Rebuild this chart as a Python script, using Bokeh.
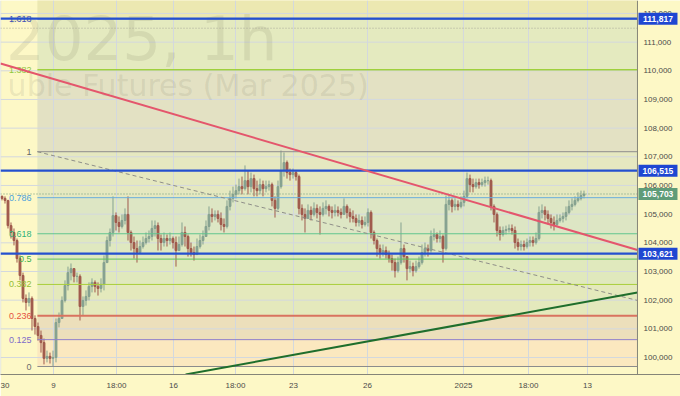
from bokeh.plotting import figure
from bokeh.models import Range1d, FixedTicker, ColumnDataSource
from bokeh.embed import file_html
from bokeh.resources import INLINE
from bokeh.core.properties import value

# ---------------- data (prices in thousands of RUB) ----------------
first_open_k = 105.62
close_k = [105.55,105.48,104.60,104.36,104.08,103.45,102.86,102.06,101.92,102.06,
           101.36,101.08,100.77,100.52,99.97,100.04,99.97,100.00,101.22,101.36,
           101.99,102.51,102.96,103.10,102.83,102.83,101.78,101.99,102.13,102.48,
           102.62,102.48,102.41,102.55,103.31,104.08,104.36,104.95,104.71,104.57,
           104.78,104.99,104.36,104.01,103.80,103.66,103.87,104.01,104.15,104.22,
           104.50,104.60,104.15,104.01,104.15,104.08,104.15,104.01,103.73,103.94,
           104.36,104.22,103.80,103.66,103.59,103.87,104.08,104.22,104.57,104.99,
           104.92,104.99,104.85,104.64,104.57,105.27,105.55,105.69,105.82,105.96,
           105.89,106.17,105.96,106.24,105.89,105.82,106.03,105.89,105.96,106.03,
           105.48,105.20,105.96,106.52,106.80,106.45,106.38,106.45,106.31,105.20,
           104.99,104.85,105.13,104.99,105.20,105.06,104.99,105.20,105.27,105.13,
           105.06,105.13,105.06,104.99,105.27,105.06,104.92,104.85,104.71,104.78,
           104.64,104.71,105.06,104.36,104.08,103.80,103.66,103.73,103.59,103.45,
           103.31,103.03,103.31,103.80,103.52,103.10,103.17,103.03,103.17,103.31,
           103.66,103.80,103.73,104.22,104.29,104.15,104.22,103.80,105.34,105.48,
           105.27,105.34,105.27,105.41,105.62,106.24,106.03,105.96,106.10,106.03,
           106.10,106.17,106.17,105.27,104.99,104.43,104.29,104.43,104.46,104.50,
           104.43,104.01,103.87,103.94,103.87,104.01,104.08,104.01,104.15,105.06,
           105.13,104.99,104.85,104.71,104.64,104.78,104.85,104.92,105.06,105.27,
           105.34,105.48,105.55,105.65,105.70]
high_k = [105.65,105.62,105.48,104.71,104.50,104.15,103.56,102.96,102.20,102.27,
          102.13,101.47,101.22,100.94,100.66,100.24,100.17,100.24,101.36,101.57,
          102.13,102.69,103.17,103.28,103.10,102.96,102.90,102.13,102.34,102.62,
          102.76,102.69,102.62,102.76,103.56,104.22,104.50,105.62,105.06,104.92,
          104.99,105.20,105.62,104.43,104.22,104.08,104.08,104.22,104.36,104.43,
          104.78,104.78,104.71,104.29,104.36,104.29,104.36,104.22,104.22,104.22,
          104.71,104.57,104.29,104.01,103.87,104.15,104.29,104.43,104.78,105.27,
          105.20,105.13,105.13,105.06,104.85,105.48,105.82,105.96,106.03,106.24,
          106.31,106.70,106.52,106.45,106.38,106.17,106.24,106.17,106.17,106.17,
          106.10,105.62,106.17,107.22,107.15,106.87,106.59,106.59,106.52,106.38,
          105.34,105.20,105.34,105.27,105.41,105.34,105.27,105.41,105.48,105.34,
          105.27,105.34,105.27,105.20,105.55,105.34,105.20,105.13,104.99,104.99,
          104.92,104.92,105.20,105.13,104.43,104.15,103.94,103.94,103.87,103.73,
          103.59,103.45,103.52,104.71,103.94,103.52,103.38,103.31,103.38,103.52,
          103.94,104.01,103.94,104.43,104.50,104.36,104.43,104.29,105.65,105.69,
          105.55,105.55,105.48,105.62,105.82,106.45,106.38,106.24,106.24,106.24,
          106.24,106.31,106.31,106.24,105.34,105.06,104.57,104.57,104.60,104.64,
          104.64,104.57,104.15,104.08,104.08,104.15,104.22,104.22,104.36,105.27,
          105.34,105.27,105.13,104.99,104.92,104.99,104.99,105.06,105.27,105.48,
          105.55,105.62,105.76,105.82,105.82]
low_k = [105.48,105.37,104.50,104.15,103.91,103.31,102.69,101.92,101.64,101.78,
         100.94,100.80,100.59,100.17,99.76,99.83,99.79,99.70,99.83,101.05,
         101.36,101.92,102.34,102.69,102.62,102.62,101.29,101.47,101.81,101.99,
         102.27,102.27,102.16,102.27,102.34,103.31,103.87,104.22,104.43,104.36,
         104.50,104.64,104.08,103.73,103.45,103.31,103.66,103.80,103.94,104.01,
         104.08,104.22,103.73,103.73,103.87,103.87,103.94,103.80,103.17,103.73,
         103.87,103.87,103.52,103.52,103.38,103.59,103.80,103.94,104.22,104.43,
         104.71,104.78,104.71,104.43,104.36,104.50,105.13,105.41,105.55,105.69,
         105.69,105.82,105.69,105.76,105.62,105.62,105.69,105.62,105.76,105.82,
         105.27,104.88,105.13,105.89,106.31,106.24,106.17,106.24,106.17,104.99,
         104.78,104.36,104.85,104.78,104.92,104.85,104.29,104.92,104.99,104.92,
         104.85,104.92,104.92,104.85,104.99,104.85,104.71,104.71,104.57,104.57,
         104.50,104.57,104.57,104.15,103.94,103.52,103.45,103.52,103.45,103.31,
         103.03,102.79,102.96,103.24,103.31,102.69,102.96,102.83,102.96,103.10,
         103.24,103.52,103.52,103.66,104.08,104.01,104.01,103.31,103.73,105.13,
         105.06,105.13,105.13,105.20,105.27,105.55,105.76,105.76,105.89,105.89,
         105.96,105.96,106.03,105.13,104.71,104.22,104.08,104.22,104.29,104.36,
         104.29,103.80,103.73,103.73,103.73,103.80,103.87,103.87,103.94,104.08,
         104.85,104.78,104.64,104.50,104.43,104.57,104.71,104.71,104.78,104.99,
         105.13,105.27,105.41,105.48,105.55]

x_tick_pos = [-0.45, 17.17, 38.17, 57.17, 77.83, 97.17, 121.83, 153.83, 175.5, 195.17]
x_tick_labels = ["30", "9", "18:00", "16", "18:00", "23", "26", "2025", "18:00", "13"]
y_ticks = [100000, 101000, 102000, 103000, 104000, 105000, 106000,
           107000, 108000, 109000, 110000, 111000, 112000]
y_tick_labels = ["100,000", "101,000", "102,000", "103,000", "104,000", "105,000", "106,000",
                 "107,000", "108,000", "109,000", "110,000", "111,000", "112,000"]

# Fibonacci retracement drawing
fib_anchor_x = 11.8
fib_price_0 = 99686
fib_price_1 = 107178
fib_levels = [0, 0.125, 0.236, 0.382, 0.5, 0.618, 0.786, 1, 1.382, 1.618]
fib_labels = ["0", "0.125", "0.236", "0.382", "0.5", "0.618", "0.786", "1", "1.382", "1.618"]
fib_line_colors = ["#8c8c8c", "#8f7fcb", "#d9735f", "#a9cf3c", "#5cc25a", "#5fc48e",
                   "#6aaedb", "#8c8c8c", "#9fd03c", "#4a5cc0"]
fib_text_colors = ["#6e6e6e", "#7e6bc9", "#e5533f", "#94be32", "#3fb04a", "#2fb37a",
                   "#4a9fdc", "#666666", "#8fc73e", "#4050b5"]
fib_line_widths = [1, 1, 2, 1, 1, 1, 1, 1, 1.5, 1]
fib_zone_top_level = 2.618
fib_zone_colors = ["#fbe8bf", "#ecdfbb", "#e4e9bc", "#e0e9bd", "#dfe8c0", "#dde6c4",
                   "#e5e8c0", "#e3e1c3", "#e4eabf", "#ece8b1"]

# horizontal price lines with axis tags
hline_prices = [111817, 106515, 103621]
hline_tags = ["111,817", "106,515", "103,621"]
last_price = 105703
last_tag = "105,703"
dotted_level = 111486

# trend lines (x in bar index, y in price)
red_x = [-0.5, 211.83]
red_y = [110255, 103749]
green_x = [61.2, 211.83]
green_y = [99407, 102267]
dash_x = [11.8, 211.83]
dash_y = [107178, 101990]

# ---------------- figure ----------------
BG = "#fdf8c6"
X_START, X_PLOT_END, X_END = -0.5, 211.83, 226.17   # price pane | price scale strip
Y_START, Y_END = 99407, 112452
PX = 637 / (X_PLOT_END - X_START)                    # screen px per bar
PY = 374 / (Y_END - Y_START)                         # screen px per rouble

p = figure(width=680, height=396, output_backend="svg", toolbar_location=None,
           x_range=Range1d(X_START, X_END), y_range=Range1d(Y_START, Y_END),
           y_axis_location=None,
           min_border_left=0, min_border_top=0, min_border_right=0, min_border_bottom=22,
           background_fill_color=BG, border_fill_color=BG, outline_line_color=None)
p.grid.visible = False

# fib zones
lv_all = fib_levels + [fib_zone_top_level]
nz = len(fib_levels)
zb = [fib_price_0 + (fib_price_1 - fib_price_0) * lv_all[k] for k in range(nz)]
zt = [fib_price_0 + (fib_price_1 - fib_price_0) * lv_all[k + 1] for k in range(nz)]
p.quad(left=[fib_anchor_x] * nz, right=[X_PLOT_END] * nz, bottom=zb, top=zt,
       fill_color=fib_zone_colors, line_color=None, level="image")

# grid
GRID = "#d3d8de"
p.segment(x0=[X_START] * len(y_ticks), x1=[X_PLOT_END] * len(y_ticks), y0=y_ticks, y1=y_ticks,
          line_color=GRID, line_width=1, level="underlay")
p.segment(x0=x_tick_pos, x1=x_tick_pos, y0=[Y_START] * len(x_tick_pos), y1=[Y_END] * len(x_tick_pos),
          line_color=GRID, line_width=1, level="underlay")

# watermark (kept fully inside the pane)
p.text(x=[91.8], y=[Y_END - 38 / PY], text=["2025, 1h"], text_align="right",
       text_baseline="alphabetic", text_font=value("DejaVu Sans"), text_font_size="61px",
       text_color="#77775f", text_alpha=0.15, level="underlay")
p.text(x=[122.2], y=[Y_END - 85 / PY], text=["uble Futures (Mar 2025)"], text_align="right",
       text_baseline="alphabetic", text_font=value("DejaVu Sans"), text_font_size="30px",
       text_color="#77775f", text_alpha=0.15, level="underlay")

# candles
n = len(close_k)
opens = [first_open_k * 1000] + [c * 1000 for c in close_k[:-1]]
closes = [c * 1000 for c in close_k]
highs = [max(h * 1000, o, c) for h, o, c in zip(high_k, opens, closes)]
lows = [min(l * 1000, o, c) for l, o, c in zip(low_k, opens, closes)]
cols = ["#86a290" if c >= o else "#a05a4c" for o, c in zip(opens, closes)]
src = ColumnDataSource(dict(x=list(range(n)), o=opens, c=closes, h=highs, l=lows,
                            top=[max(o, c) for o, c in zip(opens, closes)],
                            bot=[min(o, c) for o, c in zip(opens, closes)], col=cols))
p.segment(x0="x", y0="l", x1="x", y1="h", color="col", line_width=1, source=src)
p.vbar(x="x", width=0.62, top="top", bottom="bot", fill_color="col", line_color="col", source=src)

# fib lines + labels
fib_prices = [fib_price_0 + (fib_price_1 - fib_price_0) * lv for lv in fib_levels]
p.segment(x0=[fib_anchor_x] * nz, y0=fib_prices, x1=[X_PLOT_END] * nz, y1=fib_prices,
          line_color=fib_line_colors, line_width=fib_line_widths)
p.text(x=[9.8] * nz, y=fib_prices, text=fib_labels, text_align="right",
       text_baseline="middle", text_font=value("Liberation Sans"), text_font_size="9px",
       text_color=fib_text_colors)

# dotted levels
p.line(x=[X_START, X_PLOT_END], y=[dotted_level, dotted_level], line_color="#a9a99a",
       line_width=1, line_dash="1 2")
p.line(x=[X_START, X_PLOT_END], y=[last_price, last_price], line_color="#6f9a7c",
       line_width=1, line_dash="1 2")

# fib trend (dashed)
p.line(x=dash_x, y=dash_y, line_color="#8e8e88", line_width=1, line_dash="4 3")

# horizontal blue lines
for hp in hline_prices:
    p.line(x=[X_START, X_PLOT_END], y=[hp, hp], line_color="#2450cf", line_width=2.2)

# trend lines
p.line(x=red_x, y=red_y, line_color="#e4566c", line_width=2)
p.line(x=green_x, y=green_y, line_color="#1f6e2c", line_width=2)

# price scale strip on the right
p.segment(x0=[X_PLOT_END], x1=[X_PLOT_END], y0=[Y_START], y1=[Y_END],
          line_color="#858578", line_width=1)
p.text(x=[X_PLOT_END + 6 / PX] * len(y_ticks), y=y_ticks, text=y_tick_labels,
       text_align="left", text_baseline="middle", text_font=value("Liberation Sans"),
       text_font_size="8px", text_color="#4a4a4a")

tag_prices = hline_prices + [last_price]
tag_texts = hline_tags + [last_tag]
tag_colors = ["#1f47d2", "#1f47d2", "#1f47d2", "#5f9c78"]
tag_cx = X_PLOT_END + 20.5 / PX
p.rect(x=[tag_cx] * 4, y=tag_prices, width=39, height=12, width_units="screen",
       height_units="screen", fill_color=tag_colors, line_color=None)
p.text(x=[tag_cx] * 4, y=tag_prices, text=tag_texts, text_align="center", text_baseline="middle",
       text_font=value("Liberation Sans"), text_font_style="bold", text_font_size="8.5px",
       text_color="white")

# time axis
p.xaxis.ticker = FixedTicker(ticks=x_tick_pos)
p.xaxis.major_label_overrides = {t: s for t, s in zip(x_tick_pos, x_tick_labels)}
p.xaxis.major_tick_line_color = None
p.xaxis.minor_tick_line_color = None
p.xaxis.axis_line_color = "#858578"
p.xaxis.major_label_text_font = "Liberation Sans"
p.xaxis.major_label_text_font_size = "8px"
p.xaxis.major_label_text_color = "#4a4a4a"
p.xaxis.major_tick_out = 0
p.xaxis.major_tick_in = 0
p.xaxis.major_label_standoff = 6

open("out.html", "w").write(file_html(p, INLINE))
